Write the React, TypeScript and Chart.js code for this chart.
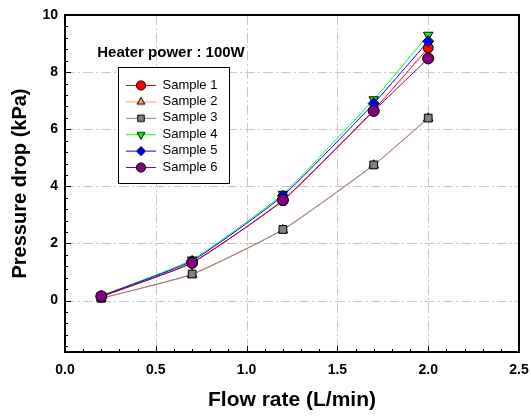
import React, { useEffect, useRef } from 'react';
import { Chart, registerables } from 'chart.js';
import { drawPoint } from 'chart.js/helpers';

Chart.register(...registerables);

const FLOW = [0.2, 0.7, 1.2, 1.7, 2.0];
const SAMPLE_1 = [0.13, 1.33, 3.5, 6.67, 8.85];
const SAMPLE_2 = [0.08, 0.91, 2.47, 4.74, 6.38];
const SAMPLE_3 = [0.08, 0.93, 2.49, 4.75, 6.39];
const SAMPLE_4 = [0.17, 1.43, 3.73, 7.04, 9.3];
const SAMPLE_5 = [0.16, 1.39, 3.67, 6.9, 9.08];
const SAMPLE_6 = [0.15, 1.32, 3.52, 6.64, 8.48];
const SERIES_NAMES = ['Sample 1', 'Sample 2', 'Sample 3', 'Sample 4', 'Sample 5', 'Sample 6'];
const X_TICKS = [0, 0.5, 1.0, 1.5, 2.0, 2.5];
const Y_TICKS = [0, 2, 4, 6, 8, 10];
const X_GRID = [0.5, 1.0, 1.5, 2.0];
const Y_GRID = [0, 2, 4, 6, 8];
const ANNOTATION = 'Heater power : 100W';
const X_TITLE = 'Flow rate (L/min)';
const Y_TITLE = 'Pressure drop (kPa)';

const FONT = "Arial, 'Liberation Sans', sans-serif";
const COLORS = ['#FF0000', '#FF9966', '#808080', '#00FF00', '#0000FF', '#800080'];
const STYLES = ['circle', 'triangle', 'rect', 'triangle', 'rectRot', 'circle'];
const ROTATIONS = [0, 0, 0, 180, 0, 0];
const RADII = [5, 5.5, 5.5, 5.5, 5.5, 5.5];

function makeIcon(i: number) {
  const c = document.createElement('canvas');
  c.width = 30;
  c.height = 14;
  const ctx = c.getContext('2d')!;
  ctx.strokeStyle = COLORS[i];
  ctx.lineWidth = 1;
  ctx.beginPath();
  ctx.moveTo(0, 7.5);
  ctx.lineTo(30, 7.5);
  ctx.stroke();
  ctx.fillStyle = COLORS[i];
  ctx.strokeStyle = '#000';
  ctx.lineWidth = 1;
  drawPoint(ctx as any, { pointStyle: STYLES[i] as any, rotation: ROTATIONS[i], radius: 4.6, borderWidth: 1 } as any, 15, 7.5);
  return c;
}

export default function App() {
  const ref = useRef<HTMLCanvasElement>(null);
  useEffect(() => {
    document.body.style.margin = '0';
    const icons = SERIES_NAMES.map((_, i) => makeIcon(i));
    const values = [SAMPLE_1, SAMPLE_2, SAMPLE_3, SAMPLE_4, SAMPLE_5, SAMPLE_6];
    const datasets = values.map((vals, i) => ({
      label: SERIES_NAMES[i],
      data: FLOW.map((x, j) => ({ x, y: vals[j] })),
      borderColor: COLORS[i],
      backgroundColor: COLORS[i],
      borderWidth: 1,
      pointStyle: STYLES[i],
      rotation: ROTATIONS[i],
      pointRadius: RADII[i],
      pointBorderColor: '#000',
      pointBackgroundColor: COLORS[i],
      pointBorderWidth: 1,
      tension: 0.15,
      order: 6 - i,
    }));

    const LEG_X = 126;
    const LEG_Y = 78.5;
    const LEG_PAD = 3.4;

    const deco = {
      id: 'deco',
      afterLayout(chart: any) {
        const lg = chart.legend;
        if (!lg) return;
        lg.left = LEG_X - LEG_PAD;
        lg.top = LEG_Y - LEG_PAD;
        lg.right = lg.left + lg.width;
        lg.bottom = lg.top + lg.height;
      },
      beforeDraw(chart: any) {
        const { ctx, chartArea: a, scales } = chart;
        const xs = scales.x;
        const ys = scales.y;
        ctx.save();
        ctx.strokeStyle = '#c8c8c8';
        ctx.lineWidth = 1;
        ctx.setLineDash([10, 3, 2, 3]);
        for (const v of X_GRID) {
          const px = Math.round(xs.getPixelForValue(v)) + 0.5;
          ctx.beginPath();
          ctx.moveTo(px, a.top);
          ctx.lineTo(px, a.bottom);
          ctx.stroke();
        }
        for (const v of Y_GRID) {
          const py = Math.round(ys.getPixelForValue(v)) + 0.5;
          ctx.beginPath();
          ctx.moveTo(a.left, py);
          ctx.lineTo(a.right, py);
          ctx.stroke();
        }
        ctx.setLineDash([]);
        ctx.fillStyle = '#fff';
        ctx.fillRect(118, 67, 111, 116);
        ctx.strokeStyle = '#000';
        ctx.lineWidth = 1;
        ctx.strokeRect(118.5, 67.5, 111, 116);
        ctx.fillStyle = '#000';
        ctx.font = `bold 15px ${FONT}`;
        ctx.textAlign = 'center';
        ctx.textBaseline = 'middle';
        ctx.fillText(ANNOTATION, 171, 53);
        ctx.restore();
      },
      afterDraw(chart: any) {
        const { ctx, chartArea: a, scales } = chart;
        const xs = scales.x;
        const ys = scales.y;
        ctx.save();
        ctx.strokeStyle = '#000';
        ctx.lineWidth = 1;
        for (let k = -4; k <= 25; k++) {
          const v = k * 0.4;
          if (v < ys.min || v > ys.max) continue;
          const major = Math.abs(v / 2 - Math.round(v / 2)) < 1e-6;
          const py = Math.round(ys.getPixelForValue(v)) + 0.5;
          ctx.beginPath();
          ctx.moveTo(a.left, py);
          ctx.lineTo(a.left + (major ? 6 : 3), py);
          ctx.stroke();
        }
        for (let k = 0; k <= 25; k++) {
          const v = k * 0.1;
          const major = k % 5 === 0;
          const px = Math.round(xs.getPixelForValue(v)) + 0.5;
          ctx.beginPath();
          ctx.moveTo(px, a.bottom);
          ctx.lineTo(px, a.bottom - (major ? 6 : 3));
          ctx.stroke();
        }
        ctx.lineWidth = 2;
        ctx.strokeRect(a.left, a.top, a.right - a.left, a.bottom - a.top);
        ctx.restore();
      },
    };

    const chart = new Chart(ref.current!, {
      type: 'line',
      data: { datasets: datasets as any },
      options: {
        responsive: false,
        animation: false,
        layout: { padding: { top: 15, right: 12, left: 0, bottom: 0 } },
        scales: {
          x: {
            type: 'linear',
            position: 'bottom',
            min: 0,
            max: 2.5,
            afterFit: (s: any) => {
              s.height = 64;
              s.paddingLeft = 0;
              s.paddingRight = 0;
            },
            afterBuildTicks: (s: any) => { s.ticks = X_TICKS.map((v) => ({ value: v })); },
            grid: { display: false, drawTicks: false },
            border: { display: false },
            ticks: {
              padding: 10,
              color: '#000',
              font: { size: 14, weight: 'bold', family: FONT },
              callback: (v: any) => Number(v).toFixed(1),
              maxRotation: 0,
            },
            title: {
              display: true,
              text: X_TITLE,
              color: '#000',
              font: { size: 21, weight: 'bold', family: FONT },
              padding: { top: 0, bottom: 3 },
            },
          },
          y: {
            type: 'linear',
            min: -1.8,
            max: 10,
            afterFit: (s: any) => {
              s.width = 65;
              s.paddingTop = 0;
              s.paddingBottom = 0;
            },
            afterBuildTicks: (s: any) => { s.ticks = Y_TICKS.map((v) => ({ value: v })); },
            grid: { display: false, drawTicks: false },
            border: { display: false },
            ticks: {
              padding: 7,
              color: '#000',
              font: { size: 14, weight: 'bold', family: FONT },
              callback: (v: any) => String(v),
            },
            title: {
              display: true,
              text: Y_TITLE,
              color: '#000',
              font: { size: 20, weight: 'bold', family: FONT },
              padding: { top: 8, bottom: 0 },
            },
          },
        },
        plugins: {
          legend: {
            display: true,
            position: 'chartArea' as any,
            align: 'start',
            onClick: () => {},
            labels: {
              usePointStyle: true,
              pointStyleWidth: 30,
              padding: LEG_PAD,
              color: '#000',
              font: { size: 13, family: FONT },
              generateLabels: (c: any) =>
                c.data.datasets.map((ds: any, i: number) => ({
                  text: ds.label,
                  pointStyle: icons[i],
                  fillStyle: COLORS[i],
                  strokeStyle: COLORS[i],
                  lineWidth: 0,
                  hidden: false,
                  datasetIndex: i,
                })),
            },
          },
          tooltip: { enabled: false },
        },
      },
      plugins: [deco],
    } as any);
    return () => chart.destroy();
  }, []);
  return <canvas ref={ref} width={531} height={416} style={{ display: 'block' }} />;
}
